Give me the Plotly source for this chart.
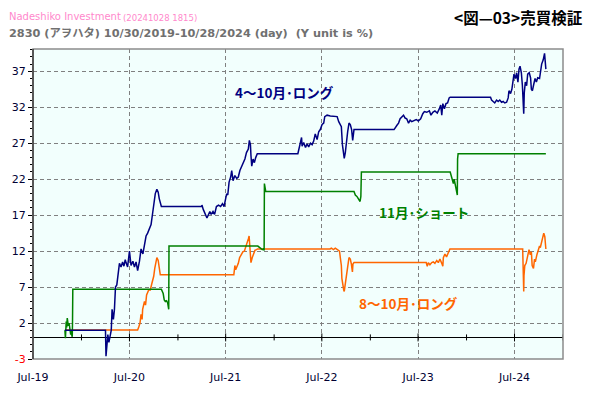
import plotly.graph_objects as go

# ---------------- data ----------------
navy_dates = [
    "2019-10-30", "2020-04-01", "2020-04-03", "2020-04-06", "2020-04-10", "2020-04-14", "2020-04-19",
    "2020-04-23", "2020-04-26", "2020-05-01", "2020-05-05", "2020-05-09", "2020-05-14", "2020-05-18",
    "2020-05-24", "2020-05-30", "2020-06-05", "2020-06-10", "2020-06-15", "2020-06-18", "2020-06-24",
    "2020-07-01", "2020-07-07", "2020-07-14", "2020-07-20", "2020-07-26", "2020-08-01", "2020-08-08",
    "2020-08-14", "2020-08-21", "2020-08-27", "2020-09-02", "2020-09-08", "2020-09-14", "2020-09-21",
    "2020-09-27", "2020-10-01", "2020-10-07", "2020-10-13", "2020-10-18", "2020-10-22", "2020-10-30",
    "2021-04-01", "2021-04-02", "2021-04-07", "2021-04-12", "2021-04-17", "2021-04-21", "2021-04-27",
    "2021-05-02", "2021-05-07", "2021-05-14", "2021-05-20", "2021-05-27", "2021-06-04", "2021-06-12",
    "2021-06-19", "2021-06-25", "2021-07-01", "2021-07-05", "2021-07-09", "2021-07-14", "2021-07-20",
    "2021-07-24", "2021-07-29", "2021-08-05", "2021-08-12", "2021-08-18", "2021-08-24", "2021-08-31",
    "2021-09-06", "2021-09-12", "2021-09-18", "2021-09-25", "2021-09-29", "2021-10-03", "2021-10-05",
    "2021-10-08", "2021-10-13", "2021-10-18", "2021-10-23", "2021-10-27", "2021-10-29",
    "2022-04-01", "2022-04-04", "2022-04-11", "2022-04-15", "2022-04-17", "2022-04-23", "2022-04-30",
    "2022-05-06", "2022-05-12", "2022-05-19", "2022-05-25", "2022-05-31", "2022-06-06", "2022-06-13",
    "2022-06-19", "2022-06-25", "2022-07-02", "2022-07-08", "2022-07-12", "2022-07-21", "2022-08-02",
    "2022-08-15", "2022-08-28", "2022-09-03", "2022-09-09", "2022-09-13", "2022-09-17", "2022-09-20",
    "2022-09-24", "2022-09-28", "2022-10-02", "2022-10-07", "2022-10-12", "2022-10-17", "2022-10-22",
    "2022-10-26", "2022-10-31",
    "2023-04-01", "2023-04-12", "2023-04-18", "2023-04-24", "2023-05-01", "2023-05-07", "2023-05-13",
    "2023-05-19", "2023-05-26", "2023-06-01", "2023-06-07", "2023-06-13", "2023-06-24", "2023-07-02",
    "2023-07-11", "2023-07-19", "2023-07-25", "2023-08-03", "2023-08-13", "2023-08-19", "2023-08-26",
    "2023-09-03", "2023-09-12", "2023-09-20", "2023-09-25", "2023-09-29", "2023-10-03", "2023-10-09",
    "2023-10-15", "2023-10-21", "2023-10-27", "2023-10-31",
    "2024-04-01", "2024-04-05", "2024-04-11", "2024-04-17", "2024-04-24", "2024-04-30", "2024-05-06",
    "2024-05-13", "2024-05-19", "2024-05-25", "2024-06-01", "2024-06-07", "2024-06-10", "2024-06-16",
    "2024-06-21", "2024-06-26", "2024-06-29", "2024-07-05", "2024-07-09", "2024-07-14", "2024-07-18",
    "2024-07-22", "2024-07-27", "2024-07-31", "2024-08-02", "2024-08-05", "2024-08-07", "2024-08-11",
    "2024-08-16", "2024-08-20", "2024-08-26", "2024-08-31", "2024-09-03", "2024-09-07", "2024-09-12",
    "2024-09-17", "2024-09-22", "2024-09-27", "2024-10-04", "2024-10-07", "2024-10-12", "2024-10-18",
    "2024-10-21", "2024-10-23", "2024-10-28",
]
navy_vals = [
    1.0, 1.0, -2.6, -0.5, 0.4, -0.7, 0.4,
    1.0, 3.9, 2.5, 3.9, 7.0, 7.3, 8.8,
    10.3, 9.8, 10.5, 9.9, 10.8, 10.4, 9.8,
    12.0, 10.0, 10.6, 9.8, 10.5, 9.3, 10.6,
    12.3, 11.6, 13.2, 14.1, 14.5, 15.2, 15.7,
    17.3, 18.7, 20.0, 20.6, 20.2, 19.3, 18.2,
    18.2, 18.4, 17.8, 17.3, 16.8, 16.6, 17.1,
    17.5, 17.1, 17.5, 17.1, 18.2, 18.4, 18.2,
    18.6, 18.2, 19.3, 20.0, 19.8, 21.6, 22.3,
    23.2, 21.8, 22.5, 22.1, 22.3, 23.2, 23.8,
    24.1, 24.8, 25.7, 26.2, 27.4, 26.8, 25.3,
    23.8, 24.8, 24.3, 25.0, 25.5, 25.55,
    25.55, 26.1, 27.3, 27.8, 26.6, 27.1, 26.4,
    26.9, 26.5, 27.0, 26.8, 27.3, 28.3, 27.5,
    28.6, 28.9, 29.6, 29.8, 30.7, 30.9, 30.8,
    30.8, 30.7, 30.0, 29.6, 29.3, 26.8, 26.1,
    24.9, 25.7, 27.3, 28.6, 29.8, 29.6, 28.9,
    27.4, 28.9,
    28.9, 29.5, 29.8, 30.4, 30.7, 30.9, 30.5,
    30.4, 29.8, 30.2, 30.0, 30.1, 30.3, 30.1,
    30.4, 31.1, 31.4, 31.3, 31.5, 30.9, 31.3,
    31.5, 31.2, 31.8, 32.3, 30.9, 32.5, 31.8,
    32.5, 32.6, 33.3, 33.4,
    33.4, 33.0, 32.8, 32.6, 33.0, 32.8, 33.0,
    32.7, 32.8, 32.6, 32.7, 33.3, 34.3, 33.9,
    34.5, 35.5, 36.6, 36.0, 36.8, 35.5, 37.3,
    37.7, 36.8, 35.0, 34.0, 31.1, 34.0, 35.5,
    35.0, 36.6, 36.8, 36.1, 34.5, 34.3, 35.2,
    36.0, 35.5, 36.1, 36.0, 37.1, 38.0, 38.6,
    39.3, 39.5, 37.3,
]

green_dates = [
    "2019-10-30", "2019-11-01", "2019-11-04", "2019-11-06", "2019-11-08", "2019-11-12", "2019-11-15",
    "2019-11-19", "2019-11-21", "2019-11-23", "2019-11-26", "2019-11-27", "2019-11-28", "2019-11-29",
    "2020-10-30", "2020-11-03", "2020-11-06", "2020-11-10", "2020-11-14", "2020-11-19", "2020-11-23",
    "2020-11-27", "2020-11-28",
    "2021-10-31", "2021-11-06", "2021-11-12", "2021-11-17", "2021-11-21", "2021-11-24", "2021-11-25",
    "2021-11-27", "2021-11-30",
    "2022-10-31", "2022-11-05", "2022-11-11", "2022-11-17", "2022-11-23", "2022-11-26", "2022-11-28",
    "2023-10-31", "2023-11-03", "2023-11-07", "2023-11-09", "2023-11-12", "2023-11-15", "2023-11-18",
    "2023-11-22", "2023-11-24", "2023-11-27", "2023-11-28", "2023-11-30", "2024-10-28",
]
green_vals = [
    1.0, -0.1, 2.2, 1.4, 2.7, 1.6, 2.0,
    1.2, 0.4, 1.0, 0.1, 0.2, 2.3, 6.7,
    6.7, 6.4, 6.1, 5.2, 5.0, 5.1, 4.8,
    3.9, 12.7,
    12.7, 12.5, 12.3, 12.2, 12.3, 12.1, 21.4,
    20.6, 20.3,
    20.3, 19.8, 19.6, 19.3, 18.9, 19.6, 23.0,
    23.0, 22.5, 22.1, 21.8, 21.4, 22.0, 21.3,
    20.6, 20.2, 19.8, 24.8, 25.55, 25.55,
]

orange_dates = [
    "2019-10-30", "2020-08-01", "2020-08-05", "2020-08-10", "2020-08-14", "2020-08-18", "2020-08-20",
    "2020-08-27", "2020-08-31", "2020-09-04", "2020-09-12", "2020-09-18", "2020-09-24", "2020-10-01",
    "2020-10-05", "2020-10-10", "2020-10-13", "2020-10-18", "2020-10-22", "2020-10-26", "2020-10-30",
    "2021-08-01", "2021-08-05", "2021-08-08", "2021-08-18", "2021-08-23", "2021-08-31", "2021-09-04",
    "2021-09-10", "2021-09-15", "2021-09-20", "2021-09-25", "2021-09-28", "2021-09-30", "2021-10-03",
    "2021-10-05", "2021-10-10", "2021-10-20", "2021-10-26", "2021-10-30",
    "2022-08-01", "2022-08-06", "2022-08-14", "2022-08-21", "2022-08-29", "2022-09-06", "2022-09-09",
    "2022-09-13", "2022-09-15", "2022-09-18", "2022-09-22", "2022-09-24", "2022-09-28", "2022-10-02",
    "2022-10-07", "2022-10-12", "2022-10-17", "2022-10-21", "2022-10-25", "2022-10-27", "2022-10-31",
    "2023-08-01", "2023-08-05", "2023-08-09", "2023-08-15", "2023-08-22", "2023-08-28", "2023-09-03",
    "2023-09-10", "2023-09-16", "2023-09-22", "2023-09-29", "2023-10-03", "2023-10-05", "2023-10-11",
    "2023-10-17", "2023-10-23", "2023-10-30",
    "2024-08-01", "2024-08-02", "2024-08-05", "2024-08-06", "2024-08-09", "2024-08-14", "2024-08-17",
    "2024-08-21", "2024-08-25", "2024-08-30", "2024-09-03", "2024-09-06", "2024-09-11", "2024-09-15",
    "2024-09-18", "2024-09-24", "2024-09-28", "2024-10-04", "2024-10-07", "2024-10-12", "2024-10-16",
    "2024-10-20", "2024-10-24", "2024-10-28",
]
orange_vals = [
    1.04, 1.04, 1.4, 2.0, 3.2, 2.5, 3.9,
    5.0, 4.5, 5.9, 6.6, 6.6, 7.5, 8.5,
    9.6, 10.7, 11.1, 10.7, 9.8, 8.7, 8.7,
    8.7, 10.0, 9.4, 10.3, 11.1, 11.6, 11.9,
    12.0, 12.7, 13.2, 13.7, 14.1, 12.7, 11.4,
    10.4, 11.1, 12.1, 12.2, 12.3,
    12.3, 12.4, 12.2, 12.4, 12.2, 12.0, 11.1,
    10.0, 8.2, 7.3, 6.6, 6.4, 7.7, 8.6,
    9.8, 11.1, 10.9, 10.2, 9.1, 10.2, 10.4,
    10.4, 9.9, 10.4, 10.1, 10.4, 10.5, 10.3,
    10.7, 10.4, 10.9, 10.3, 9.9, 11.1, 11.6,
    11.2, 11.8, 12.3,
    12.3, 10.0, 6.4, 8.6, 10.0, 10.3, 10.9,
    11.6, 12.2, 11.5, 11.9, 10.0, 9.6, 10.9,
    10.5, 11.5, 12.0, 12.7, 12.5, 13.2, 13.9,
    14.5, 14.0, 12.3,
]

x_tick_vals = ["2019-07-01", "2020-07-01", "2021-07-01", "2022-07-01", "2023-07-01", "2024-07-01"]
x_tick_text = ["Jul-19", "Jul-20", "Jul-21", "Jul-22", "Jul-23", "Jul-24"]
y_tick_vals = [-3, 2, 7, 12, 17, 22, 27, 32, 37]
y_tick_text = ["<span style='color:#FF0000'>-3</span>", "2", "7", "12", "17", "22", "27", "32", "37"]
zero_jul_ticks = ["2020-07-01", "2021-07-01", "2022-07-01", "2023-07-01", "2024-07-01"]
zero_jan_ticks = ["2020-01-01", "2021-01-01", "2022-01-01", "2023-01-01", "2024-01-01", "2025-01-01"]

series_labels = ["4～10月･ロング", "11月･ショート", "8～10月･ロング"]

# ---------------- layout geometry ----------------
W_TOT, H_TOT = 590, 396
L, R, T, B = 31, 27, 49, 31
PW, PH = W_TOT - L - R, H_TOT - T - B


def fx(px):
    return (px - L) / PW


def fy(py):
    return (H_TOT - B - py) / PH


NAVY, GREEN, ORANGE = "#000080", "#008000", "#FF6600"
LAT = "DejaVu Sans, Verdana, Noto Sans CJK JP"
JP = "Noto Sans CJK JP"

fig = go.Figure()
fig.add_trace(go.Scatter(x=orange_dates, y=orange_vals, mode="lines",
                         line=dict(color=ORANGE, width=1.5), hoverinfo="skip"))
fig.add_trace(go.Scatter(x=green_dates, y=green_vals, mode="lines",
                         line=dict(color=GREEN, width=1.5), hoverinfo="skip"))
fig.add_trace(go.Scatter(x=navy_dates, y=navy_vals, mode="lines",
                         line=dict(color=NAVY, width=1.5), hoverinfo="skip"))

shapes = []
for d in zero_jul_ticks:
    shapes.append(dict(type="line", xref="x", yref="y", x0=d, x1=d, ysizemode="pixel",
                       yanchor=0, y0=-4, y1=4, line=dict(color="black", width=1)))
for d in zero_jan_ticks:
    shapes.append(dict(type="line", xref="x", yref="y", x0=d, x1=d, ysizemode="pixel",
                       yanchor=0, y0=-3, y1=3, line=dict(color="black", width=1)))
shapes.append(dict(type="rect", xref="paper", yref="paper", x0=0, x1=1, y0=0, y1=1,
                   line=dict(color="#8C8C8C", width=1.5), layer="above"))
shapes.append(dict(type="line", xref="paper", yref="paper", x0=0, x1=0, y0=0, y1=1,
                   line=dict(color="#222222", width=1.2), layer="above"))

annotations = [
    dict(text="Nadeshiko Investment", x=fx(5), y=fy(16), xanchor="left", yanchor="middle",
         font=dict(family=LAT, size=10, color="#FF88CC")),
    dict(text="(20241028 1815)", x=fx(119), y=fy(17), xanchor="left", yanchor="middle",
         font=dict(family=LAT, size=8.5, color="#FF88CC")),
    dict(text="<b>2830 (アヲハタ) 10/30/2019-10/28/2024 (day) &nbsp;(Y unit is %)</b>",
         x=fx(5), y=fy(33), xanchor="left", yanchor="middle",
         font=dict(family=LAT, size=11.3, color="#707070")),
    dict(text="<b>&lt;図—03&gt;売買検証</b>", x=fx(585), y=fy(16), xanchor="right", yanchor="middle",
         font=dict(family=JP, size=15.5, color="#000000")),
    dict(text="<b>" + series_labels[0] + "</b>", x=fx(283), y=fy(93), xanchor="center", yanchor="middle",
         font=dict(family=JP, size=13.5, color=NAVY)),
    dict(text="<b>" + series_labels[1] + "</b>", x=fx(423), y=fy(215), xanchor="center", yanchor="middle",
         font=dict(family=JP, size=13.5, color=GREEN)),
    dict(text="<b>" + series_labels[2] + "</b>", x=fx(408), y=fy(308), xanchor="center", yanchor="middle",
         font=dict(family=JP, size=13.5, color=ORANGE)),
]
for a in annotations:
    a.update(xref="paper", yref="paper", showarrow=False)

fig.update_layout(
    width=W_TOT, height=H_TOT,
    margin=dict(l=L, r=R, t=T, b=B, pad=0),
    paper_bgcolor="white", plot_bgcolor="#F2FFFD",
    showlegend=False,
    shapes=shapes, annotations=annotations,
    xaxis=dict(type="date", range=["2019-07-01", "2025-01-01"],
               tickmode="array", tickvals=x_tick_vals, ticktext=x_tick_text,
               showgrid=True, gridcolor="#808080", gridwidth=1, griddash="4px,3px",
               ticks="outside", ticklen=8, tickcolor="rgba(0,0,0,0)",
               showline=False, zeroline=False,
               tickfont=dict(family=LAT, size=11, color="#000033")),
    yaxis=dict(range=[-3, 40.1], tickmode="array", tickvals=y_tick_vals, ticktext=y_tick_text,
               showgrid=True, gridcolor="#808080", gridwidth=1, griddash="4px,3px",
               zeroline=True, zerolinecolor="black", zerolinewidth=1.3,
               ticks="outside", ticklen=4, tickcolor="black", tickwidth=1,
               minor=dict(tickmode="linear", tick0=0, dtick=1, ticks="outside", ticklen=2,
                          tickcolor="black", showgrid=False),
               showline=False,
               tickfont=dict(family=LAT, size=11, color="#000033")),
)

fig.write_html("out.html", config={"displayModeBar": False},
               post_script="document.body.style.margin='0';document.body.style.padding='0';")
